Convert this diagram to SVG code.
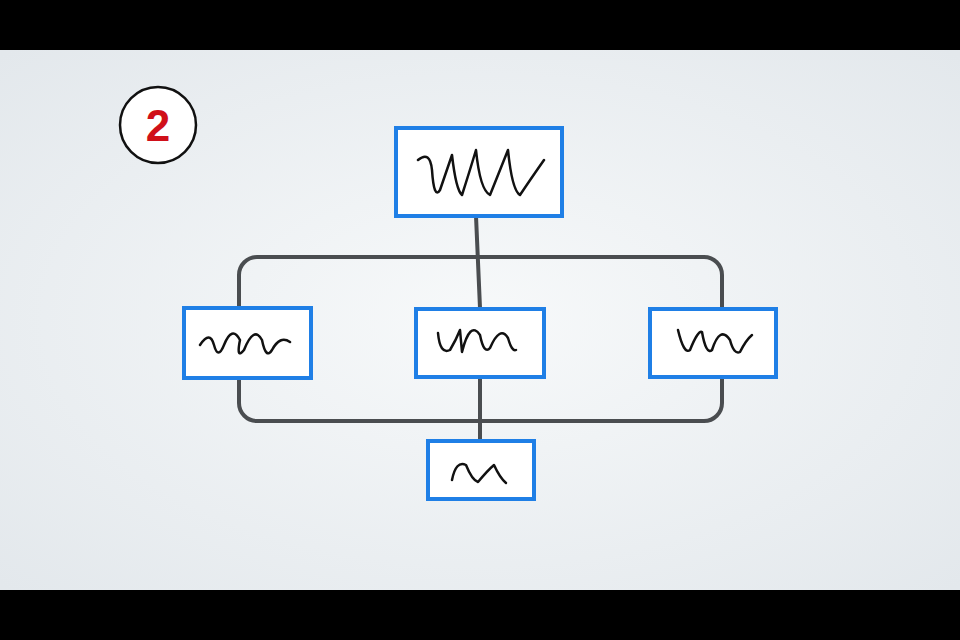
<svg xmlns="http://www.w3.org/2000/svg" width="960" height="640" viewBox="0 0 960 640">
<defs>
<radialGradient id="bg" cx="50%" cy="50%" r="70%">
<stop offset="0" stop-color="#f7f9fa"/><stop offset="1" stop-color="#e3e8ec"/>
</radialGradient>
<style>
.box{fill:#ffffff;stroke:#1f7fe6;stroke-width:4}
.scr{fill:none;stroke:#111;stroke-width:2.5;stroke-linecap:round;stroke-linejoin:round}
.con{fill:none;stroke:#4a4d50;stroke-width:4;stroke-linecap:round}
</style>
</defs>
<rect width="960" height="640" fill="#000"/>
<rect y="50" width="960" height="540" fill="url(#bg)"/>
<g id="badge">
<circle cx="158" cy="125" r="38" fill="#fff" stroke="#111" stroke-width="2.5"/>
<text x="158" y="141" text-anchor="middle" font-family="Liberation Sans, Arial, sans-serif" font-weight="bold" font-size="44" fill="#d0101a">2</text>
</g>
<g id="connectors">
<rect class="con" x="239" y="257" width="483" height="164" rx="18"/>
<path class="con" d="M476 216 L480 308"/>
<path class="con" d="M480 377 L480 440"/>
</g>
<g id="top">
<rect class="box" x="396" y="128" width="166" height="88"/>
<path class="scr" d="M418 160 Q430 150 432 170 Q434 200 440 190 L452 155 Q456 190 462 195 Q470 170 476 150 Q480 190 490 195 Q500 170 508 150 Q512 190 520 195 Q530 180 544 160"/>
</g>
<g id="left">
<rect class="box" x="184" y="308" width="127" height="70"/>
<path class="scr" d="M200 345 Q210 330 214 345 Q218 360 224 345 Q232 325 240 340 Q236 360 244 350 Q254 325 262 340 Q266 360 272 350 Q280 335 290 342"/>
</g>
<g id="middle">
<rect class="box" x="416" y="309" width="128" height="68"/>
<path class="scr" d="M438 333 Q440 355 450 350 Q456 340 460 330 L462 352 Q470 320 480 335 Q484 355 490 348 Q500 325 508 338 Q512 352 516 350"/>
</g>
<g id="right">
<rect class="box" x="650" y="309" width="126" height="68"/>
<path class="scr" d="M678 330 Q684 355 690 350 Q698 330 702 332 Q706 355 712 350 Q720 325 730 340 Q734 355 740 352 Q746 340 752 335"/>
</g>
<g id="bottom">
<rect class="box" x="428" y="441" width="106" height="58"/>
<path class="scr" d="M452 480 Q456 460 466 465 Q472 480 478 482 Q488 470 494 465 Q500 478 506 483"/>
</g>
</svg>
